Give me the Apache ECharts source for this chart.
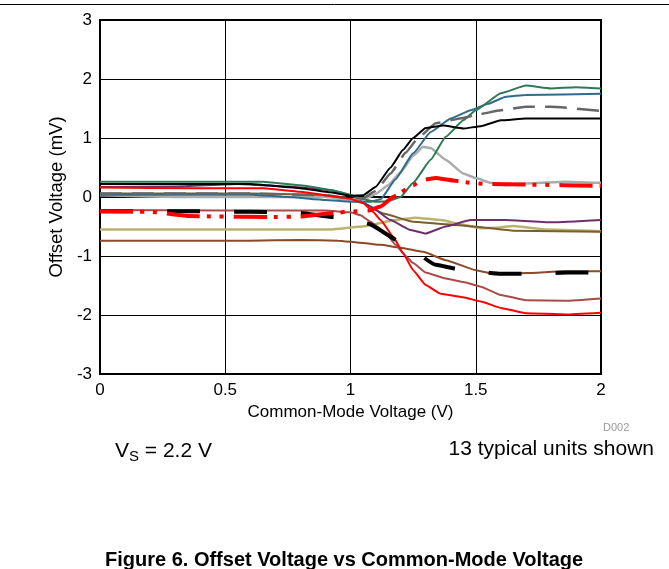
<!DOCTYPE html>
<html>
<head>
<meta charset="utf-8">
<script src="https://cdn.jsdelivr.net/npm/echarts@6/dist/echarts.min.js"></script>
<style>
  html, body { margin: 0; padding: 0; background: #fff; }
  #chart { width: 669px; height: 569px; }
</style>
</head>
<body>
<div id="chart"></div>
<script>
// Offset voltage (mV) of 13 units vs common-mode voltage (V), VS = 2.2 V
const xTicks = [0, 0.5, 1, 1.5, 2];
const yTicks = [-3, -2, -1, 0, 1, 2, 3];

const unitGreen = [[0,0.26],[0.3,0.26],[0.65,0.26],[0.8,0.2],[0.92,0.12],[1.0,0.04],[1.05,-0.04],[1.1,-0.08],[1.15,-0.07],[1.2,0.0],[1.25,0.24],[1.32,0.63],[1.38,1.02],[1.45,1.3],[1.5,1.47],[1.6,1.76],[1.7,1.89],[1.8,1.84],[1.9,1.86],[2.0,1.84]];
const unitTeal = [[0,0.04],[0.6,0.04],[0.75,0.0],[0.9,-0.05],[1.0,-0.08],[1.08,-0.08],[1.12,-0.04],[1.18,0.3],[1.25,0.74],[1.32,1.1],[1.4,1.33],[1.48,1.47],[1.55,1.58],[1.62,1.7],[1.7,1.73],[2.0,1.75]];
const unitDarkGray = [[0,0.06],[0.6,0.06],[0.9,0.03],[1.0,-0.02],[1.05,-0.02],[1.1,0.1],[1.16,0.4],[1.22,0.75],[1.27,1.0],[1.34,1.25],[1.45,1.34],[1.5,1.39],[1.6,1.47],[1.7,1.53],[1.8,1.53],[2.0,1.46]];
const unitBlack = [[0,0.22],[0.6,0.22],[0.8,0.15],[0.92,0.08],[1.0,0.02],[1.05,0.03],[1.1,0.17],[1.16,0.5],[1.21,0.8],[1.25,1.0],[1.3,1.17],[1.37,1.21],[1.45,1.16],[1.52,1.2],[1.6,1.3],[1.7,1.33],[2.0,1.33]];
const unitLightGray = [[0,0.03],[0.3,0.0],[0.9,0.0],[1.0,-0.05],[1.06,-0.03],[1.1,0.05],[1.15,0.2],[1.2,0.42],[1.25,0.7],[1.29,0.85],[1.32,0.83],[1.38,0.63],[1.45,0.4],[1.5,0.32],[1.56,0.24],[1.62,0.2],[1.7,0.23],[1.86,0.26],[2.0,0.24]];
const unitRedDashDot = [[0,-0.24],[0.2,-0.25],[0.35,-0.32],[0.45,-0.33],[0.7,-0.34],[0.8,-0.33],[0.93,-0.27],[1.0,-0.25],[1.07,-0.23],[1.12,-0.16],[1.17,0.0],[1.25,0.2],[1.29,0.29],[1.34,0.32],[1.41,0.28],[1.48,0.24],[1.54,0.22],[1.7,0.21],[2.0,0.19]];
const unitBlackDash = [[0,-0.24],[0.3,-0.24],[0.6,-0.25],[0.8,-0.27],[0.93,-0.34],[1.0,-0.37],[1.07,-0.45],[1.2,-0.76],[1.34,-1.15],[1.46,-1.25],[1.6,-1.3],[1.73,-1.3],[1.87,-1.28],[2.0,-1.28]];
const unitPurple = [[0,0.17],[0.3,0.18],[0.55,0.22],[0.75,0.18],[0.92,0.12],[1.0,0.03],[1.08,-0.16],[1.16,-0.39],[1.24,-0.56],[1.3,-0.62],[1.38,-0.5],[1.48,-0.39],[1.62,-0.39],[1.81,-0.43],[2.0,-0.39]];
const unitKhaki = [[0,-0.55],[0.6,-0.55],[0.92,-0.55],[1.05,-0.5],[1.18,-0.39],[1.26,-0.35],[1.36,-0.39],[1.45,-0.47],[1.52,-0.53],[1.58,-0.52],[1.65,-0.49],[1.78,-0.55],[2.0,-0.58]];
const unitDarkBrown = [[0,0.06],[0.6,0.06],[0.85,0.04],[0.95,0.0],[1.05,-0.1],[1.13,-0.28],[1.25,-0.42],[1.38,-0.46],[1.49,-0.5],[1.65,-0.57],[2.0,-0.59]];
const unitIndianRed = [[0,-0.22],[0.5,-0.23],[0.9,-0.23],[1.0,-0.26],[1.04,-0.31],[1.08,-0.42],[1.14,-0.61],[1.18,-0.81],[1.22,-1.0],[1.25,-1.12],[1.3,-1.28],[1.38,-1.38],[1.45,-1.44],[1.52,-1.52],[1.6,-1.66],[1.7,-1.75],[1.86,-1.76],[2.0,-1.72]];
const unitRed = [[0,0.16],[0.4,0.15],[0.65,0.15],[0.8,0.09],[0.95,0.0],[1.0,-0.03],[1.05,-0.1],[1.09,-0.25],[1.12,-0.39],[1.17,-0.67],[1.21,-0.95],[1.25,-1.24],[1.3,-1.49],[1.36,-1.64],[1.45,-1.7],[1.52,-1.77],[1.6,-1.88],[1.7,-1.97],[1.86,-1.99],[2.0,-1.96]];
const unitSienna = [[0,-0.74],[0.6,-0.74],[0.8,-0.73],[0.95,-0.74],[1.05,-0.78],[1.12,-0.81],[1.2,-0.86],[1.29,-0.93],[1.38,-1.07],[1.5,-1.24],[1.58,-1.31],[1.7,-1.29],[1.85,-1.26],[2.0,-1.26]];

const FONT = '"Liberation Sans", Arial, sans-serif';

function unit(data, color, width, dash) {
  return {
    type: 'line',
    data: data,
    showSymbol: false,
    smooth: 0.12,
    smoothMonotone: 'x',
    silent: true,
    lineStyle: { color: color, width: width, type: dash || 'solid', cap: 'butt' }
  };
}

const chart = echarts.init(document.getElementById('chart'), null, { renderer: 'canvas' });
chart.setOption({
  animation: false,
  backgroundColor: '#fff',
  grid: { left: 100, right: 68, top: 20, bottom: 195, show: true, borderColor: '#000', borderWidth: 2 },
  xAxis: {
    type: 'value', min: xTicks[0], max: xTicks[xTicks.length - 1], interval: 0.5,
    name: 'Common-Mode Voltage (V)', nameLocation: 'middle', nameGap: 29,
    nameTextStyle: { fontFamily: FONT, fontSize: 17, color: '#000' },
    axisLine: { show: true, lineStyle: { color: '#000', width: 2 } },
    axisTick: { show: false },
    axisLabel: { fontFamily: FONT, fontSize: 17, color: '#000', margin: 8 },
    splitLine: { show: true, lineStyle: { color: '#000', width: 1 } }
  },
  yAxis: {
    type: 'value', min: yTicks[0], max: yTicks[yTicks.length - 1], interval: 1,
    name: 'Offset Voltage (mV)', nameLocation: 'middle', nameGap: 34,
    nameTextStyle: { fontFamily: FONT, fontSize: 18.5, color: '#000' },
    axisLine: { show: true, lineStyle: { color: '#000', width: 2 } },
    axisTick: { show: false },
    axisLabel: { fontFamily: FONT, fontSize: 17, color: '#000', margin: 8 },
    splitLine: { show: true, lineStyle: { color: '#000', width: 1 } }
  },
  title: [
    { text: 'D002', left: 598, top: 417, textStyle: { fontFamily: FONT, fontSize: 11, fontWeight: 'normal', color: '#999' } },
    { text: '{v|V}{s|S}{v| = 2.2 V}', left: 110, top: 434,
      textStyle: { rich: {
        v: { fontFamily: FONT, fontSize: 21, fontWeight: 'normal', color: '#000' },
        s: { fontFamily: FONT, fontSize: 15, fontWeight: 'normal', color: '#000', padding: [10, 0, 0, 0] }
      } } },
    { text: '13 typical units shown', right: 10, top: 434, textStyle: { fontFamily: FONT, fontSize: 21, fontWeight: 'normal', color: '#000' } },
    { text: 'Figure 6. Offset Voltage vs Common-Mode Voltage', left: 100, top: 545, textStyle: { fontFamily: FONT, fontSize: 20, fontWeight: 'bold', color: '#000' } }
  ],
  graphic: [
    { type: 'line', shape: { x1: 0, y1: 4.5, x2: 669, y2: 4.5 }, style: { stroke: '#000', lineWidth: 1 } }
  ],
  series: [
    unit(unitSienna, '#8B4A26', 2),
    unit(unitKhaki, '#B8B36E', 2.5),
    unit(unitDarkBrown, '#7A5C30', 2),
    unit(unitPurple, '#6E2E6C', 2),
    unit(unitIndianRed, '#A84C4A', 2),
    unit(unitLightGray, '#ABABAB', 2.5),
    unit(unitTeal, '#2F6C8C', 2),
    unit(unitGreen, '#2E7A58', 2),
    unit(unitDarkGray, '#666666', 2.5, [22, 10]),
    unit(unitBlack, '#000000', 2),
    unit(unitRed, '#FF0000', 2),
    unit(unitBlackDash, '#000000', 4, [33, 34]),
    unit(unitRedDashDot, '#FF0000', 4, [33, 7, 4, 9, 4, 10])
  ]
});
</script>
</body>
</html>
